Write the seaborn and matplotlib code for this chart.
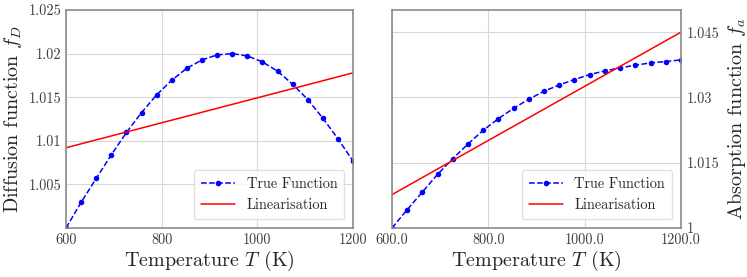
import numpy as np
import pandas as pd
import matplotlib
matplotlib.use("Agg")
import matplotlib.pyplot as plt
import seaborn as sns
from matplotlib.ticker import FormatStrFormatter

# temperatures (K), 20 sample points
temps = [600.0, 631.6, 663.2, 694.7, 726.3, 757.9, 789.5, 821.1, 852.6, 884.2,
         915.8, 947.4, 978.9, 1010.5, 1042.1, 1073.7, 1105.3, 1136.8, 1168.4, 1200.0]

diff_true = [1.00000, 1.00294, 1.00569, 1.00840, 1.01095, 1.01324, 1.01527, 1.01695,
             1.01832, 1.01927, 1.01985, 1.02000, 1.01973, 1.01905, 1.01798, 1.01649,
             1.01473, 1.01260, 1.01023, 1.00767]
diff_lin_T = [600.0, 1200.0]
diff_lin = [1.0092, 1.01779]

abs_true = [1.00000, 1.00422, 1.00828, 1.01234, 1.01594, 1.01932, 1.02246, 1.02514,
            1.02752, 1.02959, 1.03143, 1.03288, 1.03411, 1.03526, 1.03610, 1.03679,
            1.03741, 1.03794, 1.03825, 1.03863]
abs_lin_T = [600.0, 1200.0]
abs_lin = [1.00767, 1.04500]

sns.set_style("whitegrid", {"axes.edgecolor": "0.55", "grid.color": "0.85",
                            "axes.linewidth": 1.2})
plt.rcParams["font.family"] = ["cmr10", "DejaVu Serif"]
plt.rcParams["mathtext.fontset"] = "cm"
plt.rcParams["axes.formatter.use_mathtext"] = True
plt.rcParams["text.color"] = "0.15"
plt.rcParams["axes.labelcolor"] = "0.15"
plt.rcParams["xtick.color"] = "0.25"
plt.rcParams["ytick.color"] = "0.25"

fig = plt.figure(figsize=(7.47, 2.77), dpi=100)
ax1 = fig.add_axes([0.0884, 0.177, 0.3842, 0.787])
ax2 = fig.add_axes([0.5248, 0.177, 0.3868, 0.787])


def draw(ax, true_vals, lin_T, lin_vals):
    df_true = pd.DataFrame({"T": temps, "f": true_vals})
    df_lin = pd.DataFrame({"T": lin_T, "f": lin_vals})
    sns.lineplot(data=df_true, x="T", y="f", ax=ax, color="blue", linestyle="--",
                 marker="o", markersize=4, markeredgewidth=0, linewidth=1.1,
                 label="True Function")
    sns.lineplot(data=df_lin, x="T", y="f", ax=ax, color="red", linewidth=1.1,
                 label="Linearisation")
    ax.set_xlim(600, 1200)
    ax.set_xticks([600, 800, 1000, 1200])
    ax.set_xlabel("Temperature $T$ (K)", fontsize=14.5, labelpad=2)
    ax.tick_params(labelsize=10.3, length=0, pad=3.5)
    leg = ax.legend(loc="lower right", fontsize=10.3, frameon=True,
                    borderaxespad=0.6, handlelength=2.4, borderpad=0.5,
                    labelspacing=0.55)
    leg.get_frame().set_edgecolor("0.85")
    for sp in ax.spines.values():
        sp.set_color("0.55")
        sp.set_linewidth(1.2)


draw(ax1, diff_true, diff_lin_T, diff_lin)
ax1.set_ylim(1.0, 1.025)
ax1.set_yticks([1.005, 1.01, 1.015, 1.02, 1.025])
ax1.yaxis.set_major_formatter(FormatStrFormatter("%g"))
ax1.xaxis.set_major_formatter(FormatStrFormatter("%g"))
ax1.set_ylabel("Diffusion function $f_D$", fontsize=14.5, labelpad=3)

draw(ax2, abs_true, abs_lin_T, abs_lin)
ax2.set_ylim(1.0, 1.0501)
ax2.set_yticks([1.0, 1.015, 1.03, 1.045])
ax2.yaxis.set_major_formatter(FormatStrFormatter("%g"))
ax2.xaxis.set_major_formatter(FormatStrFormatter("%.1f"))
ax2.yaxis.tick_right()
ax2.yaxis.set_label_position("right")
ax2.tick_params(axis="y", pad=4.5)
ax2.set_ylabel("Absorption function $f_a$", fontsize=14.5, labelpad=4)

fig.savefig("out.png", dpi=100)
